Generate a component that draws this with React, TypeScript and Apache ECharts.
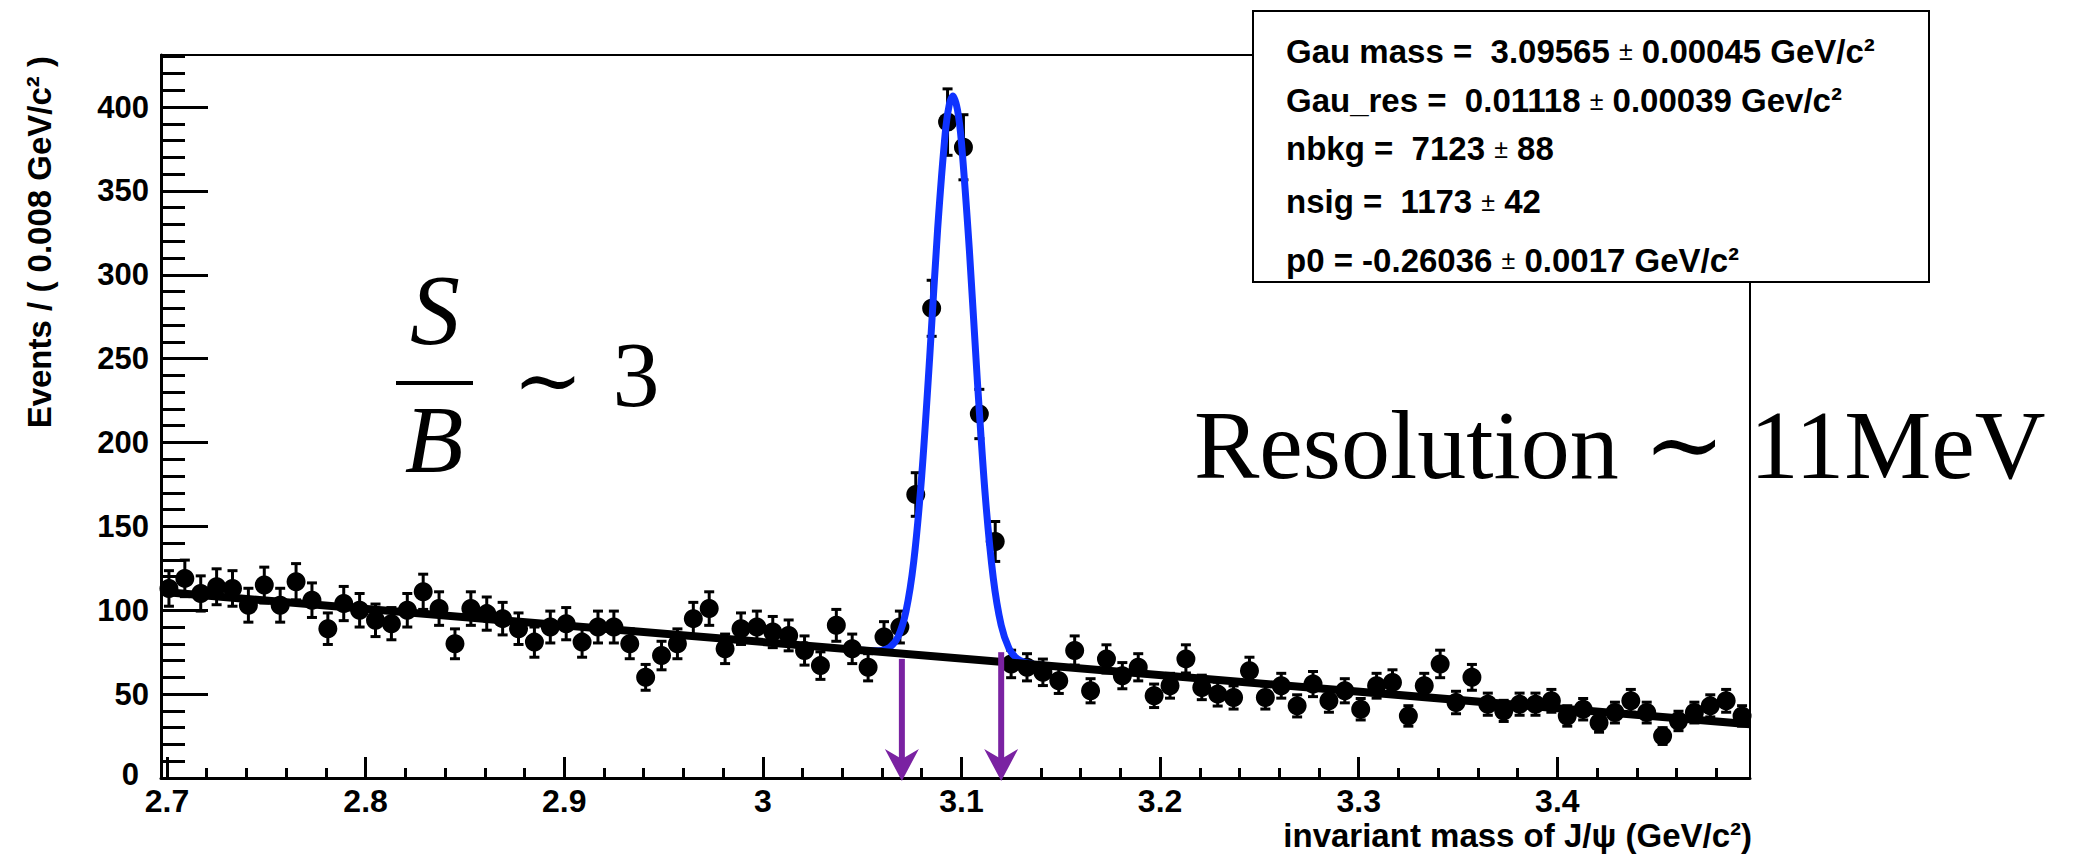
import React, { useEffect, useRef } from "react";
import * as echarts from "echarts";

// ---------- histogram binning ----------
const X_MIN = 2.697;
const X_MAX = 3.497;
const BIN_WIDTH = 0.008;
const Y_MAX = 431;

// ---------- data (events per bin) ----------
const counts = [
  113, 119, 110, 114, 113, 103, 115, 103, 117, 106,
  89, 104, 100, 94, 92, 100, 111, 101, 80, 101,
  98, 95, 89, 81, 90, 92, 81, 90, 90, 80,
  60, 73, 80, 95, 101, 77, 89, 90, 87, 85,
  76, 67, 91, 77, 66, 84, 90, 169, 280, 391,
  376, 217, 141, 68, 66, 63, 58, 76, 52, 71,
  61, 66, 49, 55, 71, 54, 50, 48, 64, 48,
  55, 43, 56, 46, 52, 41, 55, 57, 37, 55,
  68, 45, 60, 44, 40, 44, 44, 46, 37, 41,
  33, 39, 46, 39, 25, 34, 39, 43, 46, 37,
];

const countErrors = [
  10.6, 10.9, 10.5, 10.7, 10.6, 10.1, 10.7, 10.1, 10.8, 10.3,
  9.4, 10.2, 10.0, 9.7, 9.6, 10.0, 10.5, 10.0, 8.9, 10.0,
  9.9, 9.7, 9.4, 9.0, 9.5, 9.6, 9.0, 9.5, 9.5, 8.9,
  7.7, 8.5, 8.9, 9.7, 10.0, 8.8, 9.4, 9.5, 9.3, 9.2,
  8.7, 8.2, 9.5, 8.8, 8.1, 9.2, 9.5, 13.0, 16.7, 19.8,
  19.4, 14.7, 11.9, 8.2, 8.1, 7.9, 7.6, 8.7, 7.2, 8.4,
  7.8, 8.1, 7.0, 7.4, 8.4, 7.3, 7.1, 6.9, 8.0, 6.9,
  7.4, 6.6, 7.5, 6.8, 7.2, 6.4, 7.4, 7.5, 6.1, 7.4,
  8.2, 6.7, 7.7, 6.6, 6.3, 6.6, 6.6, 6.8, 6.1, 6.4,
  5.7, 6.2, 6.8, 6.2, 5.0, 5.8, 6.2, 6.6, 6.8, 6.1,
];

// total fit curve (blue)
const fitX = [
  3.05, 3.056, 3.06, 3.064, 3.068, 3.072, 3.076, 3.08, 3.084, 3.088,
  3.092, 3.094, 3.0957, 3.098, 3.1, 3.104, 3.108, 3.112, 3.116, 3.12,
  3.124, 3.128, 3.132, 3.136, 3.142,
];
const fitY = [
  76.2, 75.8, 76.1, 78.0, 84.0, 99.0, 129.3, 180.4, 250.7, 327.1,
  386.5, 402.3, 406.6, 398.3, 378.8, 314.4, 236.9, 168.1, 119.4, 91.0,
  77.1, 71.1, 68.8, 67.9, 67.1,
];

// background component (black line)
const bgX = [2.697, 3.497];
const bgY = [111, 32];

// signal window arrows
const arrowX = [3.07, 3.12];
const arrowTop = [71, 75];

// axis ticks
const xMajorTicks = [2.7, 2.8, 2.9, 3.0, 3.1, 3.2, 3.3, 3.4];
const xMinorTicks = [
  2.72, 2.74, 2.76, 2.78, 2.82, 2.84, 2.86, 2.88, 2.92, 2.94, 2.96, 2.98,
  3.02, 3.04, 3.06, 3.08, 3.12, 3.14, 3.16, 3.18, 3.22, 3.24, 3.26, 3.28,
  3.32, 3.34, 3.36, 3.38, 3.42, 3.44, 3.46, 3.48,
];
const yMajorTicks = [0, 50, 100, 150, 200, 250, 300, 350, 400];
const yMinorTicks = [
  10, 20, 30, 40, 60, 70, 80, 90, 110, 120, 130, 140, 160, 170, 180, 190,
  210, 220, 230, 240, 260, 270, 280, 290, 310, 320, 330, 340, 360, 370, 380,
  390, 410, 420, 430,
];

// fit results box
const fitLines = [
  ["Gau mass =  3.09565 ", " 0.00045 GeV/c²"],
  ["Gau_res =  0.01118 ", " 0.00039 Gev/c²"],
  ["nbkg =  7123 ", " 88"],
  ["nsig =  1173 ", " 42"],
  ["p0 = -0.26036 ", " 0.0017 GeV/c²"],
];

const SANS = "'Liberation Sans', Arial, Helvetica, sans-serif";
const SERIF = "'Liberation Serif', 'Times New Roman', 'DejaVu Serif', serif";
const BLUE = "#0f33ff";
const PURPLE = "#7a22a2";

export default function App() {
  const ref = useRef<HTMLDivElement>(null);

  useEffect(() => {
    if (!ref.current) return;
    const chart = echarts.init(ref.current, null, { renderer: "svg" });

    const binCenters = counts.map((_, i) =>
      Number((X_MIN + BIN_WIDTH * (i + 0.5)).toFixed(4))
    );

    const lineY = [51, 100.5, 148.5, 201.5, 260];

    const graphic: any[] = [
      // fit results box
      {
        type: "rect",
        z: 100,
        shape: { x: 1253, y: 11, width: 676, height: 271 },
        style: { fill: "#fff", stroke: "#000", lineWidth: 2 },
      },
      ...fitLines.map((l, i) => ({
        type: "text",
        z: 101,
        x: 1286,
        y: lineY[i],
        style: {
          text: `{a|${l[0]}}{pm|±}{a|${l[1]}}`,
          verticalAlign: "middle",
          align: "left",
          rich: {
            a: { fontSize: 33, fontWeight: "bold", fontFamily: SANS, fill: "#000" },
            pm: { fontSize: 25, fontWeight: "normal", fontFamily: SANS, fill: "#000" },
          },
        },
      })),
      // S / B ~ 3
      {
        type: "text",
        z: 50,
        x: 435,
        y: 309,
        style: {
          text: "S",
          fontSize: 100,
          fontStyle: "italic",
          fontFamily: SERIF,
          fill: "#000",
          align: "center",
          verticalAlign: "middle",
        },
      },
      {
        type: "line",
        z: 50,
        shape: { x1: 396, y1: 383, x2: 473, y2: 383 },
        style: { stroke: "#000", lineWidth: 4 },
      },
      {
        type: "text",
        z: 50,
        x: 434,
        y: 439,
        style: {
          text: "B",
          fontSize: 96,
          fontStyle: "italic",
          fontFamily: SERIF,
          fill: "#000",
          align: "center",
          verticalAlign: "middle",
        },
      },
      {
        type: "text",
        z: 50,
        x: 548,
        y: 380,
        style: {
          text: "∼",
          fontSize: 84,
          fontFamily: SERIF,
          fill: "#000",
          align: "center",
          verticalAlign: "middle",
        },
      },
      {
        type: "text",
        z: 50,
        x: 636,
        y: 374,
        style: {
          text: "3",
          fontSize: 94,
          fontFamily: SERIF,
          fill: "#000",
          align: "center",
          verticalAlign: "middle",
        },
      },
      // Resolution ~ 11MeV
      {
        type: "text",
        z: 50,
        x: 1194,
        y: 445,
        style: {
          text: "Resolution ∼ 11MeV",
          fontSize: 98,
          fontFamily: SERIF,
          fill: "#000",
          align: "left",
          verticalAlign: "middle",
        },
      },
      // axis titles
      {
        type: "text",
        z: 50,
        x: 39,
        y: 56,
        rotation: Math.PI / 2,
        style: {
          text: "Events / ( 0.008 GeV/c² )",
          fontSize: 33,
          fontWeight: "bold",
          fontFamily: SANS,
          fill: "#000",
          align: "right",
          verticalAlign: "middle",
        },
      },
      {
        type: "text",
        z: 50,
        x: 1752,
        y: 835,
        style: {
          text: "invariant mass of J/ψ (GeV/c²)",
          fontSize: 33,
          fontWeight: "bold",
          fontFamily: SANS,
          fill: "#000",
          align: "right",
          verticalAlign: "middle",
        },
      },
    ];

    const axisLabelStyle = {
      fontSize: 32,
      fontWeight: "bold",
      fontFamily: SANS,
      color: "#000",
    };

    chart.setOption({
      animation: false,
      backgroundColor: "#fff",
      grid: {
        left: 161,
        right: 329,
        top: 55,
        bottom: 79,
        containLabel: false,
        outerBoundsMode: "none",
      },
      xAxis: [
        {
          type: "value",
          min: X_MIN,
          max: X_MAX,
          position: "bottom",
          axisLine: { show: true, onZero: false, lineStyle: { color: "#000", width: 3 } },
          axisTick: {
            show: true,
            inside: true,
            length: 21,
            customValues: xMajorTicks,
            lineStyle: { color: "#000", width: 3 },
          },
          axisLabel: {
            show: true,
            customValues: xMajorTicks,
            margin: 7,
            formatter: (v: number) => String(Number(v.toFixed(2))),
            ...axisLabelStyle,
          },
          splitLine: { show: false },
        },
        {
          type: "value",
          min: X_MIN,
          max: X_MAX,
          position: "bottom",
          axisLine: { show: false, onZero: false },
          axisTick: {
            show: true,
            inside: true,
            length: 10,
            customValues: xMinorTicks,
            lineStyle: { color: "#000", width: 3 },
          },
          axisLabel: { show: false },
          splitLine: { show: false },
        },
        {
          type: "value",
          min: X_MIN,
          max: X_MAX,
          position: "top",
          axisLine: { show: true, onZero: false, lineStyle: { color: "#000", width: 2 } },
          axisTick: { show: false },
          axisLabel: { show: false },
          splitLine: { show: false },
        },
      ],
      yAxis: [
        {
          type: "value",
          min: 0,
          max: Y_MAX,
          position: "left",
          axisLine: { show: true, onZero: false, lineStyle: { color: "#000", width: 3 } },
          axisTick: {
            show: true,
            inside: true,
            length: 47,
            customValues: yMajorTicks,
            lineStyle: { color: "#000", width: 3 },
          },
          axisLabel: {
            show: true,
            customValues: yMajorTicks,
            margin: 12,
            formatter: (v: number) => (v === 0 ? "{z|0}" : String(v)),
            fontSize: 31,
            fontWeight: "bold",
            fontFamily: SANS,
            color: "#000",
            rich: {
              z: {
                fontSize: 31,
                fontWeight: "bold",
                fontFamily: SANS,
                color: "#000",
                padding: [0, 10, 8, 0],
              },
            },
          },
          splitLine: { show: false },
        },
        {
          type: "value",
          min: 0,
          max: Y_MAX,
          position: "left",
          axisLine: { show: false, onZero: false },
          axisTick: {
            show: true,
            inside: true,
            length: 24,
            customValues: yMinorTicks,
            lineStyle: { color: "#000", width: 3 },
          },
          axisLabel: { show: false },
          splitLine: { show: false },
        },
        {
          type: "value",
          min: 0,
          max: Y_MAX,
          position: "right",
          axisLine: { show: true, onZero: false, lineStyle: { color: "#000", width: 2 } },
          axisTick: { show: false },
          axisLabel: { show: false },
          splitLine: { show: false },
        },
      ],
      series: [
        {
          type: "custom",
          name: "errors",
          z: 2,
          xAxisIndex: 0,
          yAxisIndex: 0,
          encode: { x: 0, y: [1, 2] },
          data: binCenters.map((c, i) => [
            c,
            counts[i] - countErrors[i],
            counts[i] + countErrors[i],
          ]),
          renderItem: (params: any, api: any) => {
            const x = api.value(0);
            const lo = api.coord([x, api.value(1)]);
            const hi = api.coord([x, api.value(2)]);
            const hw = 5;
            const st = { stroke: "#000", lineWidth: 3 };
            return {
              type: "group",
              children: [
                { type: "line", shape: { x1: lo[0], y1: lo[1], x2: hi[0], y2: hi[1] }, style: st },
                { type: "line", shape: { x1: lo[0] - hw, y1: lo[1], x2: lo[0] + hw, y2: lo[1] }, style: st },
                { type: "line", shape: { x1: hi[0] - hw, y1: hi[1], x2: hi[0] + hw, y2: hi[1] }, style: st },
              ],
            };
          },
        },
        {
          type: "scatter",
          name: "data",
          z: 3,
          xAxisIndex: 0,
          yAxisIndex: 0,
          symbol: "circle",
          symbolSize: 19,
          itemStyle: { color: "#000", opacity: 1 },
          data: binCenters.map((c, i) => [c, counts[i]]),
        },
        {
          type: "line",
          name: "total fit",
          z: 4,
          xAxisIndex: 0,
          yAxisIndex: 0,
          showSymbol: false,
          symbol: "none",
          smooth: 0.3,
          lineStyle: { color: BLUE, width: 7 },
          data: fitX.map((x, i) => [x, fitY[i]]),
        },
        {
          type: "line",
          name: "background",
          z: 5,
          xAxisIndex: 0,
          yAxisIndex: 0,
          showSymbol: false,
          symbol: "none",
          lineStyle: { color: "#000", width: 8 },
          data: bgX.map((x, i) => [x, bgY[i]]),
        },
        {
          type: "custom",
          name: "window",
          z: 6,
          xAxisIndex: 0,
          yAxisIndex: 0,
          clip: false,
          encode: { x: 0, y: 1 },
          data: arrowX.map((x, i) => [x, arrowTop[i]]),
          renderItem: (params: any, api: any) => {
            const x = api.value(0);
            const top = api.coord([x, api.value(1)]);
            const bot = api.coord([x, 0]);
            const tipY = bot[1] + 3;
            const headH = 32;
            const headW = 17;
            const notch = 22;
            return {
              type: "group",
              children: [
                {
                  type: "line",
                  shape: { x1: top[0], y1: top[1], x2: top[0], y2: tipY - notch + 2 },
                  style: { stroke: PURPLE, lineWidth: 6 },
                },
                {
                  type: "polygon",
                  shape: {
                    points: [
                      [bot[0], tipY],
                      [bot[0] - headW, tipY - headH],
                      [bot[0], tipY - notch],
                      [bot[0] + headW, tipY - headH],
                    ],
                  },
                  style: { fill: PURPLE },
                },
              ],
            };
          },
        },
      ],
      graphic,
    });

    return () => chart.dispose();
  }, []);

  return (
    <div
      ref={ref}
      style={{
        position: "absolute",
        left: 0,
        top: 0,
        width: 2079,
        height: 857,
        background: "#fff",
      }}
    />
  );
}
